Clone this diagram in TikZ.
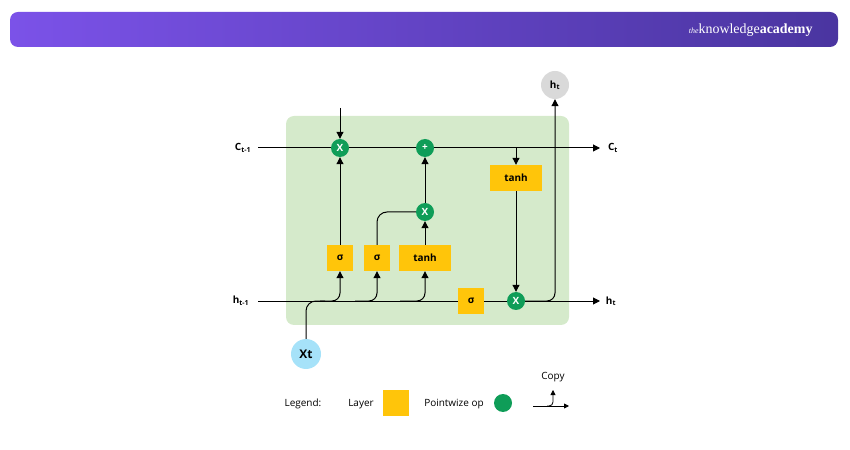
\documentclass[tikz,border=0pt]{standalone}
\usepackage{fontspec}
\setmainfont{Open Sans}
\newfontfamily\logofont{Liberation Serif}
\usetikzlibrary{arrows.meta}
\definecolor{lay}{HTML}{FFC50A}
\definecolor{pw}{HTML}{0F9D58}
\definecolor{bg}{HTML}{D5EACB}
\definecolor{hl}{HTML}{7B52E8}
\definecolor{hr}{HTML}{4A35A0}
\newcommand{\fs}{\fontsize{10}{12}\selectfont}
\begin{document}
\begin{tikzpicture}[x=1bp,y=-1bp,
  layer/.style={fill=lay,minimum height=26bp,inner sep=0pt,font=\fs\bfseries},
  op/.style={circle,fill=pw,minimum size=18bp,inner sep=0pt,text=white,font=\fs\bfseries},
  ln/.style={line width=1pt},
  ar/.style={ln,-{Triangle[length=7bp,width=7bp]}},
  lbl/.style={font=\fs\bfseries}]
\useasboundingbox (0,0) rectangle (850,450);
\shade[left color=hl,right color=hr,rounded corners=8bp] (10,12) rectangle (838,47);
\node[text=white,anchor=east,font=\logofont\fontsize{14}{16}\selectfont] (logo) at (816,30) {{\itshape\fontsize{8}{9}\selectfont the}knowledge\textbf{academy}};
\fill[bg,rounded corners=8bp] (286,116) rectangle (569,325);
% nodes
\node[op] (x1) at (340,148) {X};
\node[op] (pl) at (425,148) {+};
\node[op] (x2) at (425,212) {X};
\node[op] (x3) at (516,301) {X};
\node[layer,minimum width=26bp] (s1) at (340,258) {σ};
\node[layer,minimum width=26bp] (s2) at (377,258) {σ};
\node[layer,minimum width=52bp] (t1) at (425,258) {tanh};
\node[layer,minimum width=26bp] (s3) at (471,301) {σ};
\node[layer,minimum width=52bp] (t2) at (516,178) {tanh};
\node[circle,fill=gray!30,minimum size=28bp,inner sep=0pt,font=\fs\bfseries] (ht) at (555,85) {h\textsubscript{t}};
\node[circle,fill=cyan!35,minimum size=30bp,inner sep=0pt,font=\fontsize{12}{14}\selectfont\bfseries] (xt) at (306,354) {Xt};
\node[lbl] (cm) at (243,148) {C\textsubscript{t-1}};
\node[lbl] (co) at (613,148) {C\textsubscript{t}};
\node[lbl] (hm) at (241,301) {h\textsubscript{t-1}};
\node[lbl] (ho) at (611,301) {h\textsubscript{t}};
\coordinate (cin) at (258,148);
\coordinate (cout) at (600,148);
\coordinate (hin) at (258,301);
\coordinate (hout) at (600,301);
\coordinate (top) at (340,108);
% cell line
\draw[ln] (cin) -- (x1) -- (pl);
\draw[ar] (pl) -- (cout);
\draw[ar] (top) -- (x1);
\draw[ar] (516,148) -- (t2);
\draw[ar] (t2) -- (x3);
\draw[ar] (s1) -- (x1);
\draw[ar] (t1) -- (x2);
\draw[ar] (x2) -- (pl);
\draw[ln,rounded corners=10bp] (s2.north) |- (x2.west);
% hidden line
\draw[ln] (hin) -- (s3) -- (x3);
\draw[ar] (x3) -- (hout);
\draw[ar,rounded corners=8bp] (x3.east) -| (ht.south);
\draw[ln,rounded corners=10bp] (xt.north) |- (325,301);
\draw[ar,rounded corners=8bp] (320,301) -| (s1.south);
\draw[ar,rounded corners=8bp] (355,301) -| (s2.south);
\draw[ar,rounded corners=8bp] (400,301) -| (t1.south);
% legend
\node[font=\fs] (lg) at (303,404) {Legend:};
\node[font=\fs] (ly) at (361,404) {Layer};
\node[fill=lay,minimum size=26bp,inner sep=0pt] (lsq) at (396,403) {};
\node[font=\fs] (po) at (454,404) {Pointwize op};
\node[circle,fill=pw,minimum size=18bp,inner sep=0pt] (lc) at (503,403) {};
\node[font=\fs] (cp) at (553,377) {Copy};
\coordinate (ca) at (533,406);
\coordinate (cb) at (569,406);
\coordinate (cc) at (553,390);
\draw[line width=0.8pt,-{Triangle[length=5bp,width=5bp]}] (ca) -- (cb);
\draw[line width=0.8pt,rounded corners=4bp,-{Triangle[length=5bp,width=5bp]}] (547,406) -| (cc);
\end{tikzpicture}
\end{document}
